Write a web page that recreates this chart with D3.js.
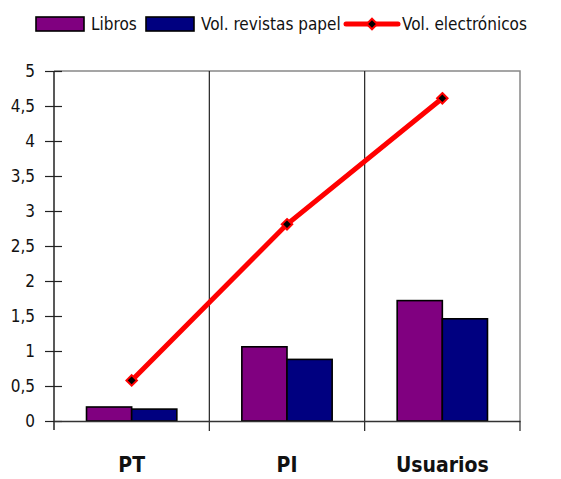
<!DOCTYPE html>
<html>
<head>
<meta charset="utf-8">
<script src="https://cdn.jsdelivr.net/npm/d3@7"></script>
<style>
  body { margin: 0; background: #fff; }
  svg text { font-family: "DejaVu Sans Condensed", "DejaVu Sans", sans-serif; font-stretch: condensed; fill: #111; }
</style>
</head>
<body>
<div id="chart"></div>
<script>
const categories = ["PT", "PI", "Usuarios"];
const libros = [0.20, 1.06, 1.72];
const revistas = [0.17, 0.88, 1.46];
const electronicos = [0.58, 2.81, 4.61];
const yTicks = [0, 0.5, 1, 1.5, 2, 2.5, 3, 3.5, 4, 4.5, 5];

const width = 561, height = 479;
const plot = { left: 54, right: 520, top: 71, bottom: 421 };

const svg = d3.select("#chart").append("svg")
  .attr("width", width)
  .attr("height", height);

const x = d3.scaleBand().domain(categories).range([plot.left, plot.right]);
const inner = d3.scaleBand().domain(["libros", "revistas"]).range([0, x.bandwidth()]).paddingInner(0).paddingOuter(0.72);
const y = d3.scaleLinear().domain([0, 5]).range([plot.bottom, plot.top]);

// plot frame (top and right)
svg.append("path")
  .attr("d", `M${plot.left},${plot.top}H${plot.right}V${plot.bottom}`)
  .attr("fill", "none")
  .attr("stroke", "#888")
  .attr("stroke-width", 1.5);

// category dividers
svg.selectAll(".divider")
  .data(categories.slice(1))
  .enter().append("line")
  .attr("class", "divider")
  .attr("x1", (d) => x(d))
  .attr("x2", (d) => x(d))
  .attr("y1", plot.top)
  .attr("y2", plot.bottom + 10)
  .attr("stroke", "#222")
  .attr("stroke-width", 1.2);

// bars
const groups = svg.selectAll(".group")
  .data(categories)
  .enter().append("g")
  .attr("transform", (d) => `translate(${x(d)},0)`);

groups.append("rect")
  .attr("x", inner("libros"))
  .attr("y", (d, i) => y(libros[i]))
  .attr("width", inner.bandwidth())
  .attr("height", (d, i) => y(0) - y(libros[i]))
  .attr("fill", "#800080")
  .attr("stroke", "#000")
  .attr("stroke-width", 1.6);

groups.append("rect")
  .attr("x", inner("revistas"))
  .attr("y", (d, i) => y(revistas[i]))
  .attr("width", inner.bandwidth())
  .attr("height", (d, i) => y(0) - y(revistas[i]))
  .attr("fill", "#000080")
  .attr("stroke", "#000")
  .attr("stroke-width", 1.6);

// y axis
const yAxis = d3.axisLeft(y)
  .tickValues(yTicks)
  .tickSize(0)
  .tickPadding(0)
  .tickFormat((d) => String(d).replace(".", ","));

const ya = svg.append("g")
  .attr("transform", `translate(${plot.left},0)`)
  .call(yAxis);
ya.select(".domain").remove();
ya.selectAll("text")
  .attr("x", -19)
  .attr("dy", "0.35em")
  .style("font-size", "17px");
ya.selectAll(".tick").append("line")
  .attr("x1", -9).attr("x2", 8)
  .attr("stroke", "#222").attr("stroke-width", 1.2);

svg.append("line")
  .attr("x1", plot.left).attr("x2", plot.left)
  .attr("y1", plot.top).attr("y2", plot.bottom + 9)
  .attr("stroke", "#222").attr("stroke-width", 1.5);

// x axis
const xAxis = d3.axisBottom(x).tickSize(0).tickPadding(0);
const xa = svg.append("g")
  .attr("transform", `translate(0,${plot.bottom})`)
  .call(xAxis);
xa.select(".domain")
  .attr("stroke", "#333")
  .attr("stroke-width", 1.6);
xa.selectAll("text")
  .attr("y", 51)
  .attr("dy", 0)
  .style("font-size", "21px")
  .style("font-weight", "bold");
svg.selectAll(".xedge")
  .data([plot.right])
  .enter().append("line")
  .attr("x1", (d) => d).attr("x2", (d) => d)
  .attr("y1", plot.bottom).attr("y2", plot.bottom + 10)
  .attr("stroke", "#222").attr("stroke-width", 1.2);

// line series
const cx = (d, i) => x(categories[i]) + x.bandwidth() / 2;
const line = d3.line().x(cx).y((d) => y(d));
svg.append("path")
  .datum(electronicos)
  .attr("d", line)
  .attr("fill", "none")
  .attr("stroke", "#ff0000")
  .attr("stroke-width", 5);

const diamond = d3.symbol().type(d3.symbolDiamond2).size(70);
svg.selectAll(".marker")
  .data(electronicos)
  .enter().append("path")
  .attr("d", diamond)
  .attr("transform", (d, i) => `translate(${cx(d, i)},${y(d)})`)
  .attr("fill", "#000")
  .attr("stroke", "#ff0000")
  .attr("stroke-width", 2);

// legend
const legend = svg.append("g").style("font-size", "17px");
legend.append("rect").attr("x", 36).attr("y", 17).attr("width", 48).attr("height", 14)
  .attr("fill", "#800080").attr("stroke", "#000").attr("stroke-width", 1.6);
legend.append("text").attr("x", 91).attr("y", 30).text("Libros");
legend.append("rect").attr("x", 146).attr("y", 17).attr("width", 48).attr("height", 14)
  .attr("fill", "#000080").attr("stroke", "#000").attr("stroke-width", 1.6);
legend.append("text").attr("x", 201).attr("y", 30).text("Vol. revistas papel");
legend.append("line").attr("x1", 346).attr("x2", 398).attr("y1", 24).attr("y2", 24)
  .attr("stroke", "#ff0000").attr("stroke-width", 5).attr("stroke-linecap", "round");
legend.append("path").attr("d", diamond).attr("transform", "translate(372,24)")
  .attr("fill", "#000").attr("stroke", "#ff0000").attr("stroke-width", 2);
legend.append("text").attr("x", 402).attr("y", 30).text("Vol. electrónicos");
</script>
</body>
</html>
